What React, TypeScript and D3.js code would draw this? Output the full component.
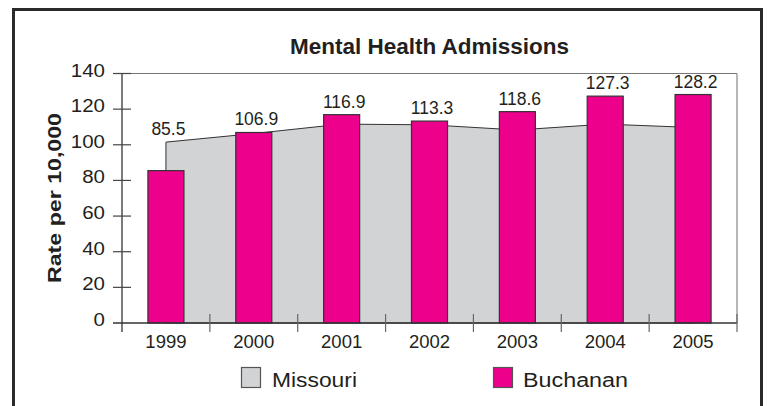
import React from "react";
import * as d3 from "d3";

const years = ["1999", "2000", "2001", "2002", "2003", "2004", "2005"];
const buchanan = [85.5, 106.9, 116.9, 113.3, 118.6, 127.3, 128.2];
const missouri = [101.5, 106.3, 111.6, 111.2, 108.3, 111.6, 109.7];
const yTicks = [0, 20, 40, 60, 80, 100, 120, 140];

const W = 768;
const H = 406;
const FONT = "'Liberation Sans', Arial, Helvetica, sans-serif";
const PINK = "#EC008C";
const GRAY = "#D1D3D4";
const INK = "#231F20";

const App = () => {
  const plot = { left: 122, right: 737, top: 73.5, bottom: 323 };

  const x = d3
    .scaleBand<string>()
    .domain(years)
    .range([plot.left, plot.right])
    .padding(0);

  const y = d3.scaleLinear().domain([0, 140]).range([plot.bottom, plot.top]);

  const barW = x.bandwidth() * 0.41;
  const cx = (yr: string) => (x(yr) as number) + x.bandwidth() / 2;

  // Missouri area behind the bars
  const area = d3
    .area<number>()
    .x((_, i) => cx(years[i]))
    .y0(y(0))
    .y1((d) => y(d));
  const areaPath = area(missouri) as string;

  return (
    <svg
      width={W}
      height={H}
      style={{ position: "absolute", left: 0, top: 0 }}
      fontFamily={FONT}
    >
      <rect x={0} y={0} width={W} height={H} fill="white" />

      {/* outer frame, open at the bottom */}
      <path
        d={`M13.5,${H + 5} L13.5,9.5 L761.5,9.5 L761.5,${H + 5}`}
        fill="none"
        stroke="#2a2a2a"
        strokeWidth={3}
      />

      {/* title */}
      <text
        x={(plot.left + plot.right) / 2}
        y={54}
        textAnchor="middle"
        fontSize={22.5}
        fontWeight="bold"
        fill={INK}
      >
        Mental Health Admissions
      </text>

      {/* Missouri area */}
      <path d={areaPath} fill={GRAY} stroke="#333" strokeWidth={1} />

      {/* Buchanan bars */}
      {buchanan.map((v, i) => (
        <rect
          key={years[i]}
          x={cx(years[i]) - barW / 2}
          y={y(v)}
          width={barW}
          height={y(0) - y(v)}
          fill={PINK}
          stroke="#333"
          strokeWidth={1.2}
        />
      ))}

      {/* value labels */}
      {buchanan.map((v, i) => (
        <text
          key={"l" + years[i]}
          x={cx(years[i]) + 2.5}
          y={y(Math.max(v, missouri[i])) - 7}
          textAnchor="middle"
          fontSize={17.5}
          fill={INK}
        >
          {v.toFixed(1)}
        </text>
      ))}

      {/* plot border top & right */}
      <line
        x1={plot.left}
        x2={plot.right}
        y1={y(140)}
        y2={y(140)}
        stroke="#777"
        strokeWidth={1.2}
      />
      <line
        x1={plot.right}
        x2={plot.right}
        y1={y(140)}
        y2={plot.bottom}
        stroke="#888"
        strokeWidth={1.2}
      />

      {/* y axis */}
      <line
        x1={plot.left}
        x2={plot.left}
        y1={y(140)}
        y2={plot.bottom + 9}
        stroke="#333"
        strokeWidth={1.3}
      />
      {yTicks.map((t) => (
        <g key={"yt" + t}>
          <line
            x1={plot.left - 9}
            x2={t === 0 ? plot.right : plot.left + 9}
            y1={y(t)}
            y2={y(t)}
            stroke={t === 0 ? "#333" : "#444"}
            strokeWidth={t === 0 ? 1.5 : 1.2}
          />
          <text
            x={105}
            y={y(t) + 3}
            textAnchor="end"
            fontSize={17.5}
            fill={INK}
            textLength={String(t).length * 11.4}
            lengthAdjust="spacingAndGlyphs"
          >
            {t}
          </text>
        </g>
      ))}

      {/* x ticks at band edges */}
      {years.slice(1).map((yr) => (
        <line
          key={"xt" + yr}
          x1={x(yr) as number}
          x2={x(yr) as number}
          y1={plot.bottom - 9}
          y2={plot.bottom + 9}
          stroke="#666"
          strokeWidth={1.2}
        />
      ))}
      <line
        x1={plot.right}
        x2={plot.right}
        y1={plot.bottom - 9}
        y2={plot.bottom + 9}
        stroke="#666"
        strokeWidth={1.2}
      />
      {years.map((yr) => (
        <text
          key={"xl" + yr}
          x={cx(yr)}
          y={348}
          textAnchor="middle"
          fontSize={18.5}
          fill={INK}
        >
          {yr}
        </text>
      ))}

      {/* y axis title */}
      <text
        transform="translate(61,198) rotate(-90)"
        textAnchor="middle"
        fontSize={19}
        fontWeight="bold"
        fill={INK}
        textLength={170}
        lengthAdjust="spacingAndGlyphs"
      >
        Rate per 10,000
      </text>

      {/* legend */}
      <rect x={241.5} y={367.5} width={19} height={20} fill={GRAY} stroke="#555" strokeWidth={1.2} />
      <text x={272} y={387} fontSize={20} fill={INK} textLength={85} lengthAdjust="spacingAndGlyphs">
        Missouri
      </text>
      <rect x={493.5} y={367.5} width={19} height={20} fill={PINK} stroke="#555" strokeWidth={1.2} />
      <text x={523} y={387} fontSize={20} fill={INK} textLength={105} lengthAdjust="spacingAndGlyphs">
        Buchanan
      </text>
    </svg>
  );
};

export default App;
